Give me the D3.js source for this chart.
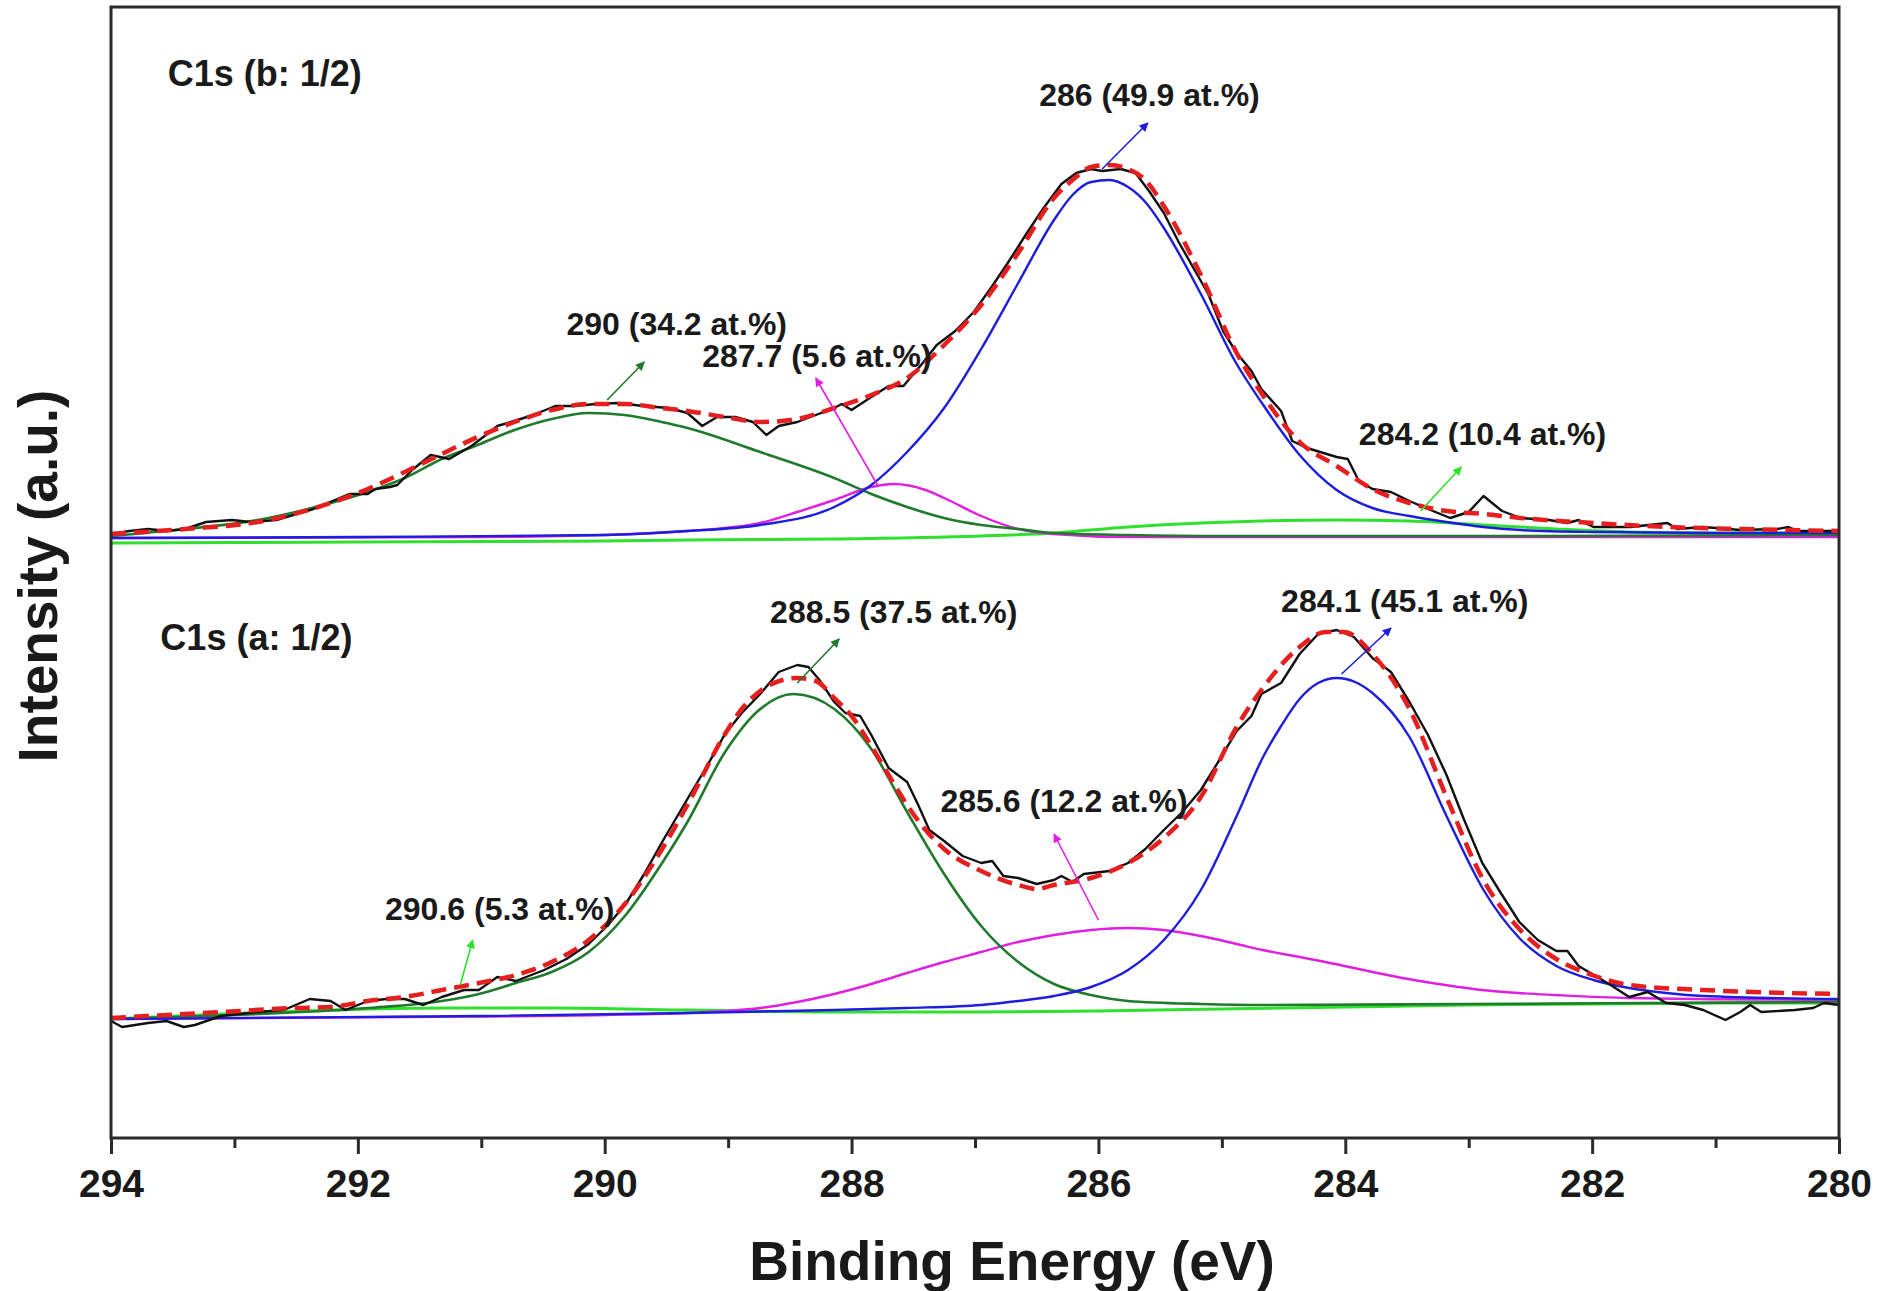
<!DOCTYPE html>
<html><head><meta charset="utf-8">
<script src="https://cdn.jsdelivr.net/npm/d3@7"></script>
<style>
html,body{margin:0;padding:0;background:#fff;}
svg{display:block;}
text{font-family:"Liberation Sans", Arial, sans-serif;font-weight:bold;fill:#1a1a1a;}
</style></head><body>
<svg id="chart" width="1898" height="1291"></svg>
<script>
// ---------------- DATA (binding energy eV, intensity a.u.) ----------------
const xTicks = [294, 292, 290, 288, 286, 284, 282, 280];
const xMinorTicks = [293, 291, 289, 287, 285, 283, 281];

// Upper spectrum  C1s (b: 1/2)
const topRaw = [[294.00,604],[293.85,607],[293.70,609],[293.55,607],[293.40,609],[293.23,616],[293.02,618],[292.87,616],[292.66,618],[292.36,629],[292.07,644],[291.92,644],[291.86,649],[291.74,651],[291.68,653],[291.56,668],[291.41,683],[291.26,679],[291.08,692],[290.93,706],[290.87,712],[290.76,716],[290.58,723],[290.40,732],[290.25,732],[290.07,734],[289.89,735],[289.69,732],[289.48,730],[289.33,725],[289.21,712],[289.09,721],[288.94,721],[288.80,716],[288.69,703],[288.59,712],[288.44,716],[288.29,723],[288.14,730],[288.08,734],[288.00,728],[287.84,741],[287.70,752],[287.58,752],[287.43,774],[287.31,793],[287.16,807],[287.01,826],[286.86,852],[286.74,874],[286.59,903],[286.45,929],[286.30,954],[286.18,965],[286.06,969],[285.97,967],[285.82,969],[285.70,965],[285.59,947],[285.47,925],[285.35,896],[285.23,870],[285.11,844],[284.99,807],[284.88,785],[284.76,767],[284.68,749],[284.52,727],[284.43,697],[284.31,690],[284.07,681],[283.98,679],[283.89,657],[283.78,649],[283.63,646],[283.48,637],[283.33,629],[283.15,620],[283.00,626],[282.88,642],[282.73,627],[282.58,620],[282.35,618],[282.20,615],[282.11,618],[281.99,611],[281.69,611],[281.39,615],[281.31,609],[281.10,611],[280.80,608],[280.50,609],[280.41,611],[280.33,607],[280.00,607]];
const topFit = [[294.00,604],[293.40,609],[292.81,616],[292.22,635],[291.92,649],[291.62,666],[291.32,684],[291.03,701],[290.73,716],[290.43,728],[290.13,734],[289.84,734],[289.54,730],[289.33,727],[289.03,721],[288.74,716],[288.44,719],[288.14,730],[287.84,743],[287.55,760],[287.25,793],[286.95,833],[286.65,885],[286.36,940],[286.21,958],[286.06,971],[285.91,973],[285.76,969],[285.62,958],[285.47,932],[285.17,863],[284.88,785],[284.68,745],[284.37,696],[284.07,672],[283.78,649],[283.48,635],[283.18,627],[282.88,624],[282.58,620],[281.99,615],[281.39,611],[280.80,609],[280.00,607]];
const topPeak290 = [[294.00,602],[293.40,609],[292.81,618],[292.22,635],[291.92,646],[291.62,660],[291.32,679],[291.03,693],[290.73,708],[290.43,719],[290.13,725],[289.84,723],[289.54,716],[289.33,710],[288.74,686],[288.14,660],[287.84,644],[287.55,631],[287.25,620],[286.95,613],[286.65,609],[286.36,605],[285.76,603],[285.00,602],[283.00,602],[280.00,603]];
const topPeak2877 = [[294.00,600],[291.00,601],[290.00,603],[289.33,607],[288.74,615],[288.44,626],[288.14,638],[287.84,651],[287.66,654],[287.40,648],[287.25,640],[286.95,622],[286.65,609],[286.36,604],[285.76,601],[284.00,601],[280.00,601]];
const topPeak286 = [[294.00,600],[292.00,601],[290.00,603],[289.33,607],[288.74,613],[288.14,631],[287.84,653],[287.55,686],[287.25,730],[286.95,789],[286.65,855],[286.36,918],[286.21,943],[286.06,956],[285.91,958],[285.76,951],[285.62,936],[285.47,910],[285.17,844],[284.88,774],[284.67,734],[284.37,683],[284.07,648],[283.78,630],[283.48,622],[283.18,616],[282.88,611],[282.58,608],[282.00,606],[281.00,605],[280.00,605]];
const topPeak2842 = [[294.00,595],[292.00,596],[290.00,597],[289.33,598],[288.14,599],[286.95,602],[286.36,605],[285.76,611],[285.17,615],[284.68,617],[284.07,618],[283.48,617],[282.88,613],[282.29,609],[281.69,606],[281.00,605],[280.00,605]];

// Lower spectrum  C1s (a: 1/2)
const botRaw = [[294.00,117],[293.91,111],[293.70,115],[293.55,117],[293.41,111],[293.32,113],[293.11,122],[292.81,126],[292.60,128],[292.39,139],[292.22,137],[292.10,128],[291.92,137],[291.77,139],[291.62,139],[291.47,133],[291.32,141],[291.14,148],[291.02,148],[290.87,161],[290.72,157],[290.49,168],[290.31,179],[290.13,194],[289.98,212],[289.83,234],[289.68,264],[289.53,297],[289.33,339],[289.18,370],[289.03,403],[288.89,425],[288.74,444],[288.59,466],[288.44,473],[288.35,471],[288.26,458],[288.14,436],[288.05,425],[287.93,422],[287.84,403],[287.70,370],[287.55,356],[287.46,333],[287.37,308],[287.25,297],[287.10,282],[286.95,275],[286.86,277],[286.77,262],[286.65,260],[286.50,254],[286.36,258],[286.30,262],[286.21,256],[286.12,264],[285.91,267],[285.76,275],[285.62,289],[285.47,308],[285.32,326],[285.17,348],[285.02,378],[284.88,407],[284.76,422],[284.68,444],[284.52,455],[284.37,484],[284.22,504],[284.07,508],[283.93,501],[283.78,480],[283.63,466],[283.48,436],[283.33,403],[283.18,363],[283.04,319],[282.89,275],[282.74,245],[282.59,216],[282.44,198],[282.29,187],[282.20,187],[282.11,172],[282.00,164],[281.85,153],[281.70,141],[281.55,146],[281.40,135],[281.25,133],[281.10,128],[280.92,118],[280.80,126],[280.72,133],[280.63,126],[280.36,128],[280.21,130],[280.12,135],[280.00,133]];
const botFit = [[294.00,120],[293.10,126],[292.51,130],[292.22,131],[291.92,137],[291.62,141],[291.32,148],[291.02,155],[290.72,163],[290.43,176],[290.13,198],[289.83,235],[289.53,290],[289.33,333],[289.03,403],[288.89,429],[288.74,447],[288.56,458],[288.44,460],[288.29,457],[288.14,440],[288.00,422],[287.84,392],[287.70,363],[287.55,333],[287.40,308],[287.25,289],[286.95,267],[286.65,253],[286.50,249],[286.36,253],[286.06,260],[285.76,275],[285.47,300],[285.17,341],[284.88,411],[284.68,448],[284.37,491],[284.16,506],[284.01,506],[283.78,484],[283.48,429],[283.18,341],[282.89,260],[282.59,209],[282.29,179],[282.00,163],[281.70,153],[281.10,148],[280.00,144]];
const botPeak2906 = [[294.00,119],[293.10,124],[292.20,128],[291.30,130],[290.40,130],[289.33,128],[288.00,126],[287.00,126],[286.00,127],[285.00,129],[284.00,131],[283.00,133],[282.00,134],[281.00,135],[280.00,135]];
const botPeak2885 = [[294.00,119],[292.81,124],[291.91,130],[291.32,137],[291.02,144],[290.72,155],[290.43,166],[290.13,186],[289.83,223],[289.53,276],[289.33,316],[289.03,385],[288.74,429],[288.47,444],[288.14,429],[287.84,389],[287.55,326],[287.25,264],[286.95,212],[286.65,176],[286.36,154],[286.06,143],[285.76,137],[285.17,134],[284.68,133],[283.00,134],[280.00,136]];
const botPeak2856 = [[294.00,119],[291.62,121],[290.00,123],[289.33,125],[289.03,127],[288.74,130],[288.44,136],[288.14,144],[287.84,154],[287.55,165],[287.25,176],[286.95,186],[286.65,196],[286.36,203],[286.06,208],[285.76,210],[285.47,208],[285.17,202],[284.88,194],[284.67,188],[284.37,181],[284.08,174],[283.78,166],[283.49,159],[283.19,153],[282.89,148],[282.60,145],[282.30,143],[281.70,140],[280.00,138]];
const botPeak2841 = [[294.00,119],[291.00,122],[289.33,125],[288.14,128],[287.55,130],[286.95,133],[286.65,137],[286.36,142],[286.06,151],[285.76,168],[285.47,198],[285.17,248],[284.88,322],[284.67,380],[284.52,412],[284.37,439],[284.22,455],[284.07,460],[283.92,456],[283.78,445],[283.48,401],[283.18,322],[282.88,248],[282.59,200],[282.29,172],[281.99,158],[281.70,150],[281.40,145],[281.10,142],[280.00,139]];

// Annotations: text anchor (E, intensity) and arrow tail -> head (E, intensity)
const panelLabels = [
  {text: "C1s (b: 1/2)", e: 293.54, v: 1052},
  {text: "C1s (a: 1/2)", e: 293.60, v: 488}
];
const peakLabels = [
  {text: "290 (34.2 at.%)",   e: 290.31, v: 803, from: [289.98, 738], to: [289.68, 776], color: "darkgreen"},
  {text: "287.7 (5.6 at.%)",  e: 289.21, v: 771, from: [287.79, 653], to: [288.29, 760], color: "magenta"},
  {text: "286 (49.9 at.%)",   e: 286.48, v: 1032, from: [285.97, 969], to: [285.60, 1015], color: "blue"},
  {text: "284.2 (10.4 at.%)", e: 283.89, v: 693, from: [283.39, 627], to: [283.06, 671], color: "lightgreen"},
  {text: "290.6 (5.3 at.%)",  e: 291.78, v: 218, from: [291.17, 153], to: [291.07, 198], color: "lightgreen"},
  {text: "288.5 (37.5 at.%)", e: 288.66, v: 515, from: [288.44, 455], to: [288.10, 499], color: "darkgreen"},
  {text: "285.6 (12.2 at.%)", e: 287.28, v: 326, from: [286.00, 218], to: [286.36, 304], color: "magenta"},
  {text: "284.1 (45.1 at.%)", e: 284.52, v: 526, from: [284.03, 464], to: [283.63, 510], color: "blue"}
];

// ---------------- DRAWING ----------------
const colors = {
  darkgreen: "#1f7a2c",
  blue: "#1d1de0",
  magenta: "#e01fe0",
  lightgreen: "#2fe02f",
  red: "#e61e1e",
  black: "#111111"
};

const svg = d3.select("#chart");
const X0 = 111, X1 = 1839, Y0 = 7, Y1 = 1138;
const x = d3.scaleLinear().domain([294, 280]).range([X0, X1]);
const y = d3.scaleLinear().domain([0, 1131]).range([Y1, Y0]);

svg.append("rect").attr("width", 1898).attr("height", 1291).attr("fill", "#fff");

svg.append("defs").append("clipPath").attr("id", "plotclip")
  .append("rect").attr("x", X0).attr("y", Y0).attr("width", X1 - X0).attr("height", Y1 - Y0);

const defs = svg.select("defs");
Object.keys(colors).forEach(k => {
  defs.append("marker").attr("id", "arrow-" + k)
    .attr("viewBox", "0 0 10 10").attr("refX", 9).attr("refY", 5)
    .attr("markerWidth", 14).attr("markerHeight", 9)
    .attr("markerUnits", "userSpaceOnUse").attr("orient", "auto")
    .append("path").attr("d", "M0,0 L10,5 L0,10 z").attr("fill", colors[k]);
});

const plot = svg.append("g").attr("clip-path", "url(#plotclip)");

const smooth = d3.line().curve(d3.curveMonotoneX).x(d => x(d[0])).y(d => y(d[1]));
const jagged = d3.line().x(d => x(d[0])).y(d => y(d[1]));

const layers = [
  {d: topPeak2842, c: colors.lightgreen, w: 3, gen: smooth},
  {d: topPeak2877, c: colors.magenta, w: 2.4, gen: smooth},
  {d: topPeak290, c: colors.darkgreen, w: 2.6, gen: smooth},
  {d: topPeak286, c: colors.blue, w: 2.4, gen: smooth},
  {d: botPeak2906, c: colors.lightgreen, w: 3, gen: smooth},
  {d: botPeak2856, c: colors.magenta, w: 2.4, gen: smooth},
  {d: botPeak2885, c: colors.darkgreen, w: 2.6, gen: smooth},
  {d: botPeak2841, c: colors.blue, w: 2.4, gen: smooth},
  {d: topRaw, c: colors.black, w: 2.4, gen: jagged},
  {d: botRaw, c: colors.black, w: 2.4, gen: jagged},
  {d: topFit, c: colors.red, w: 4.5, gen: smooth, dash: "15 8"},
  {d: botFit, c: colors.red, w: 4.5, gen: smooth, dash: "15 8"}
];
layers.forEach(l => {
  plot.append("path").attr("d", l.gen(l.d)).attr("fill", "none")
    .attr("stroke", l.c).attr("stroke-width", l.w)
    .attr("stroke-linejoin", "round")
    .attr("stroke-dasharray", l.dash || null);
});

// arrows
peakLabels.forEach(p => {
  svg.append("line")
    .attr("x1", x(p.from[0])).attr("y1", y(p.from[1]))
    .attr("x2", x(p.to[0])).attr("y2", y(p.to[1]))
    .attr("stroke", colors[p.color]).attr("stroke-width", 1.6)
    .attr("marker-end", "url(#arrow-" + p.color + ")");
});

// labels
svg.selectAll("text.peak").data(peakLabels).enter().append("text")
  .attr("class", "peak").attr("x", d => x(d.e)).attr("y", d => y(d.v))
  .attr("font-size", 32).text(d => d.text);
svg.selectAll("text.panel").data(panelLabels).enter().append("text")
  .attr("class", "panel").attr("x", d => x(d.e)).attr("y", d => y(d.v))
  .attr("font-size", 36).text(d => d.text);

// frame
svg.append("rect").attr("x", X0).attr("y", Y0).attr("width", X1 - X0).attr("height", Y1 - Y0)
  .attr("fill", "none").attr("stroke", "#2b2b2b").attr("stroke-width", 3);

// x axis
const xAxis = svg.append("g").attr("transform", `translate(0,${Y1})`)
  .call(d3.axisBottom(x).tickValues(xTicks).tickSize(16).tickFormat(d3.format("d")));
xAxis.select(".domain").remove();
xAxis.selectAll(".tick line").attr("stroke", "#2b2b2b").attr("stroke-width", 3);
xAxis.selectAll(".tick text").attr("font-size", 39).attr("fill", "#1a1a1a")
  .attr("font-family", "Liberation Sans, Arial, sans-serif").attr("font-weight", "bold")
  .attr("y", 31).attr("dy", "0.71em");
svg.append("g").attr("transform", `translate(0,${Y1})`)
  .call(d3.axisBottom(x).tickValues(xMinorTicks).tickSize(10).tickFormat(""))
  .call(g => g.select(".domain").remove())
  .selectAll(".tick line").attr("stroke", "#2b2b2b").attr("stroke-width", 3);

// axis titles
svg.append("text").attr("x", 1012).attr("y", 1280).attr("text-anchor", "middle")
  .attr("font-size", 55).text("Binding Energy (eV)");
svg.append("text").attr("transform", "translate(57,576) rotate(-90)").attr("text-anchor", "middle")
  .attr("font-size", 55).text("Intensity (a.u.)");
</script></body></html>
